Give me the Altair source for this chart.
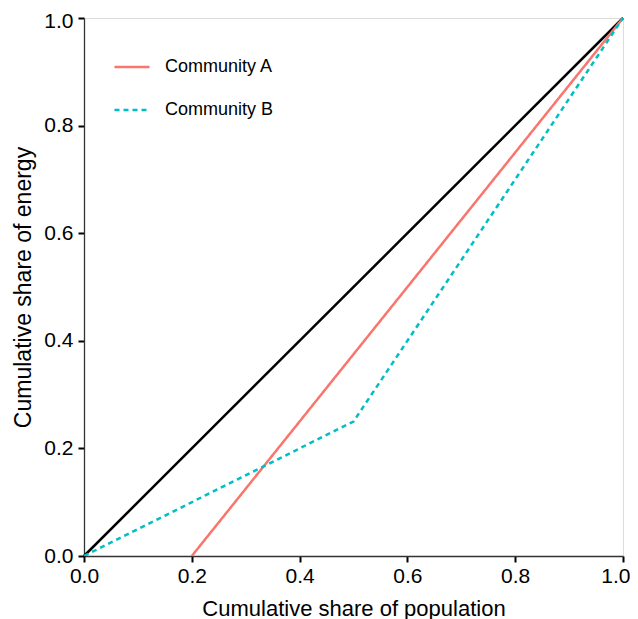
import altair as alt
import pandas as pd

series_a_x = [0.2, 1.0]
series_a_y = [0.0, 1.0]
series_b_x = [0.0, 0.5, 1.0]
series_b_y = [0.0, 0.25, 1.0]
diag_x = [0.0, 1.0]
diag_y = [0.0, 1.0]
series_names = ["Community A", "Community B"]
series_colors = ["#F8766D", "#00BFC4"]
ticks = [0.0, 0.2, 0.4, 0.6, 0.8, 1.0]

rows = []
for i, (x, y) in enumerate(zip(series_a_x, series_a_y)):
    rows.append({"x": x, "y": y, "series": series_names[0], "order": i})
for i, (x, y) in enumerate(zip(series_b_x, series_b_y)):
    rows.append({"x": x, "y": y, "series": series_names[1], "order": i})
df = pd.DataFrame(rows)
diag = pd.DataFrame({"x": diag_x, "y": diag_y})

FONT = "Liberation Sans"

xs = alt.Scale(domain=[0, 1], nice=False, zero=False)
ys = alt.Scale(domain=[0, 1], nice=False, zero=False)

common = dict(values=ticks, format=".1f", grid=False, domainColor="#333333", domainWidth=1.3,
              tickColor="black", tickWidth=2, tickSize=6, labelFontSize=21,
              labelColor="black", titleColor="black", titleFontWeight="normal",
              labelFont=FONT, titleFont=FONT, labelFlush=False, labelOverlap=False)

xaxis = alt.Axis(
    title="Cumulative share of population", labelPadding=3, titlePadding=12, titleFontSize=22,
    labelAlign={"condition": {"test": "datum.value == 1", "value": "right"}, "value": "center"},
    labelOffset={"condition": {"test": "datum.value == 1", "value": 7}, "value": 0},
    **common,
)
yaxis = alt.Axis(
    title="Cumulative share of energy", labelPadding=5, titlePadding=8, titleFontSize=23,
    labelOffset={"condition": {"test": "datum.value == 1", "value": 3}, "value": 0},
    **common,
)

base_diag = alt.Chart(diag).mark_line(color="black", strokeWidth=2.5).encode(
    x=alt.X("x:Q", scale=xs, axis=xaxis),
    y=alt.Y("y:Q", scale=ys, axis=yaxis),
)

legend = alt.Legend(title=None, orient="none", legendX=29, legendY=30,
                    symbolType="stroke", symbolSize=1225, symbolStrokeWidth=2.5,
                    labelFontSize=18, labelFont=FONT, labelColor="black",
                    rowPadding=15, labelOffset=14)

lines = alt.Chart(df).mark_line(strokeWidth=2.5, clip=True).encode(
    x=alt.X("x:Q", scale=xs),
    y=alt.Y("y:Q", scale=ys),
    color=alt.Color("series:N", scale=alt.Scale(domain=series_names, range=series_colors), legend=legend),
    strokeDash=alt.StrokeDash("series:N", scale=alt.Scale(domain=series_names, range=[[1, 0], [5, 4]]), legend=legend),
    order="order:Q",
)

chart = alt.layer(base_diag, lines).properties(
    width=539, height=538,
    autosize=alt.AutoSizeParams(type="none"),
    padding={"left": 76, "top": 10, "right": 7, "bottom": 66},
).configure_view(stroke=None).configure(background="white")

chart.save("out.html", embed_options={"renderer": "svg", "actions": False})
